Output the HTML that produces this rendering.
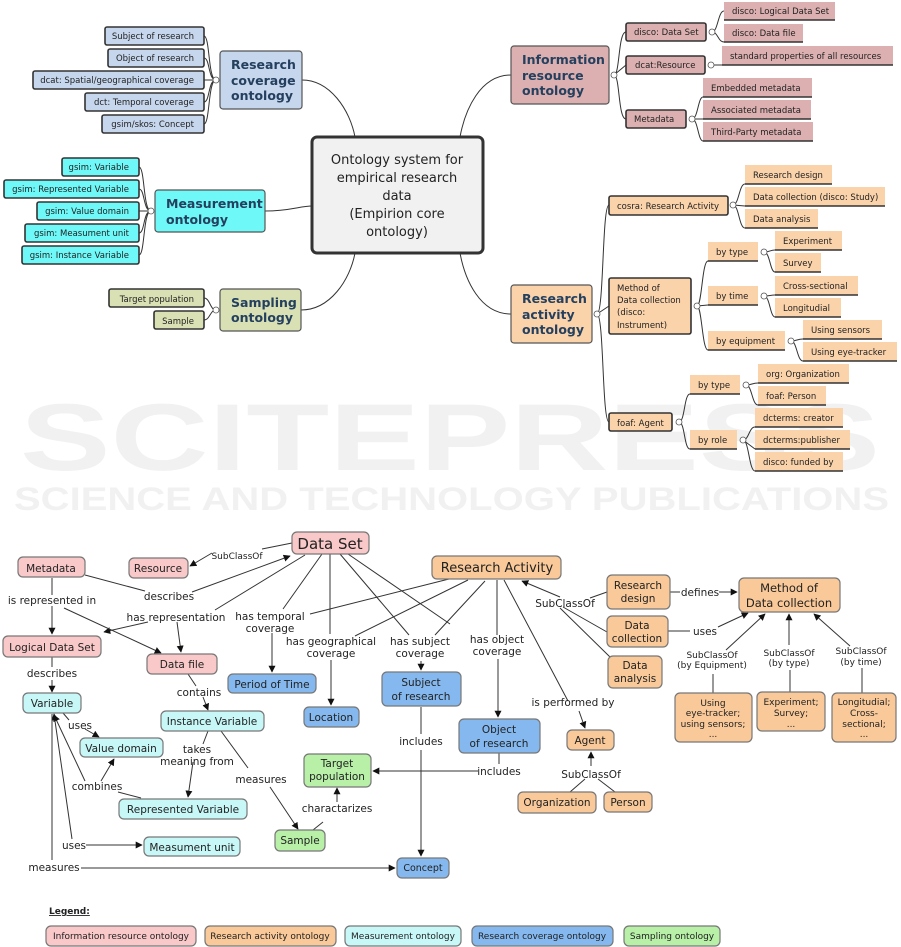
<!DOCTYPE html>
<html><head><meta charset="utf-8"><style>
html,body{margin:0;padding:0;background:#fff}
svg{display:block;font-family:"DejaVu Sans","Liberation Sans",sans-serif}
.l{font-size:8.5px;fill:#222}
.m{font-size:12.5px;font-weight:bold;fill:#24405e}
.b{font-size:10.5px;fill:#222}
.s{font-size:9px;fill:#222}
.e{stroke:#333;stroke-width:1;fill:none}
</style></head><body>
<svg width="901" height="947" viewBox="0 0 901 947" xmlns="http://www.w3.org/2000/svg">
<defs><marker id="a" viewBox="0 0 10 10" refX="9" refY="5" markerWidth="7" markerHeight="7" orient="auto-start-reverse"><path d="M0,0L10,5L0,10z" fill="#111"/></marker></defs>
<!-- watermark -->
<g fill="#f1f1f1" font-family="Liberation Sans,sans-serif" font-weight="bold">
<text x="20" y="470" font-size="95" textLength="860" lengthAdjust="spacingAndGlyphs">SCITEPRESS</text>
<text x="14" y="510" font-size="32" textLength="875" lengthAdjust="spacingAndGlyphs">SCIENCE AND TECHNOLOGY PUBLICATIONS</text>
</g>
<!-- ===== TOP MIND MAP ===== -->
<g class="e" stroke="#555">
<path d="M302,80 C330,80 350,110 355,137"/>
<path d="M265,211 C290,211 300,206 312,206"/>
<path d="M301,310 C330,310 350,280 355,253"/>
<path d="M511,75 C480,75 465,110 460,137"/>
<path d="M511,314 C480,314 465,280 460,253"/>
<path d="M216,80 C208,80 210,36 204,36 M216,80 C208,80 210,58 204,58 M216,80 L204,80 M216,80 C208,80 210,102 204,102 M216,80 C208,80 210,124 204,124"/>
<path d="M151,211 C143,211 145,167 139,167 M151,211 C143,211 145,189 139,189 M151,211 L139,211 M151,211 C143,211 145,233 139,233 M151,211 C143,211 145,255 139,255"/>
<path d="M216,310 C210,310 210,298 204,298 M216,310 C210,310 210,320 204,320"/>
<path d="M614,75 C620,75 618,32 626,32 M614,75 L626,65 M614,75 C620,75 618,119 626,119"/>
<path d="M712,32 C718,32 718,11 724,11 M712,32 C718,32 718,42 724,42"/>
<path d="M708,65 L722,65"/>
<path d="M692,119 C698,119 698,97 703,97 M692,119 L703,119 M692,119 C698,119 698,141 703,141"/>
<path d="M597,314 C604,314 602,205 609,205 M597,314 L609,306 M597,314 C604,314 602,422 609,422"/>
<path d="M733,205 C739,205 739,184 745,184 M733,205 L745,206 M733,205 C739,205 739,228 745,228"/>
<path d="M697,306 C702,306 702,261 708,261 M697,306 L708,305 M697,306 C702,306 702,350 708,350"/>
<path d="M764,252 C770,252 770,250 775,250 M764,252 C770,252 770,272 775,272"/>
<path d="M764,296 C770,296 770,295 775,295 M764,296 C770,296 770,317 775,317"/>
<path d="M791,341 C797,341 797,339 803,339 M791,341 C797,341 797,361 803,361"/>
<path d="M679,422 C685,422 684,394 690,394 M679,422 C685,422 684,449 690,449"/>
<path d="M746,385 C752,385 752,383 758,383 M746,385 C752,385 752,405 758,405"/>
<path d="M743,440 C749,440 749,427 755,427 M743,440 L755,449 M743,440 C749,440 749,471 755,471"/>
</g>
<g fill="#fff" stroke="#555" stroke-width=".8">
<circle cx="216" cy="80" r="3"/><circle cx="151" cy="211" r="3"/><circle cx="216" cy="310" r="3"/>
<circle cx="614" cy="75" r="3"/><circle cx="712" cy="32" r="3"/><circle cx="711" cy="65" r="3"/><circle cx="692" cy="119" r="3"/>
<circle cx="597" cy="314" r="3"/><circle cx="733" cy="205" r="3"/><circle cx="697" cy="306" r="3"/>
<circle cx="764" cy="252" r="3"/><circle cx="764" cy="296" r="3"/><circle cx="791" cy="341" r="3"/>
<circle cx="679" cy="422" r="3"/><circle cx="746" cy="385" r="3"/><circle cx="743" cy="440" r="3"/>
</g>
<rect x="312" y="137" width="171" height="116" rx="5" fill="#f1f1f1" stroke="#333" stroke-width="3"/>
<g font-size="13" fill="#222" text-anchor="middle"><text x="397" y="164">Ontology system for</text><text x="397" y="182">empirical research</text><text x="397" y="200">data</text><text x="397" y="218">(Empirion core</text><text x="397" y="236">ontology)</text></g>
<g fill="#c6d6ec" stroke="#333" stroke-width="1.6">
<rect x="105" y="27" width="99" height="18" rx="2"/><rect x="108" y="49" width="96" height="18" rx="2"/><rect x="33" y="71" width="171" height="18" rx="2"/><rect x="85" y="93" width="119" height="18" rx="2"/><rect x="102" y="115" width="102" height="18" rx="2"/>
<rect x="220" y="51" width="82" height="58" rx="3" stroke="#555" stroke-width="1.2"/>
</g>
<g class="l" text-anchor="end"><text x="194" y="39">Subject of research</text><text x="194" y="61">Object of research</text><text x="194" y="83">dcat: Spatial/geographical coverage</text><text x="194" y="105">dct: Temporal coverage</text><text x="194" y="127">gsim/skos: Concept</text></g>
<g class="m"><text x="231" y="69">Research</text><text x="231" y="85">coverage</text><text x="231" y="100">ontology</text></g>
<g fill="#6ff8f8" stroke="#333" stroke-width="1.6">
<rect x="62" y="158" width="77" height="18" rx="2"/><rect x="4" y="180" width="135" height="18" rx="2"/><rect x="37" y="202" width="102" height="18" rx="2"/><rect x="25" y="224" width="114" height="18" rx="2"/><rect x="22" y="246" width="117" height="18" rx="2"/>
<rect x="155" y="190" width="110" height="42" rx="3" stroke="#555" stroke-width="1.2"/>
</g>
<g class="l" text-anchor="end"><text x="129" y="170">gsim: Variable</text><text x="129" y="192">gsim: Represented Variable</text><text x="129" y="214">gsim: Value domain</text><text x="129" y="236">gsim: Measument unit</text><text x="129" y="258">gsim: Instance Variable</text></g>
<g class="m"><text x="166" y="208">Measurement</text><text x="166" y="224">ontology</text></g>
<g fill="#d8e0b4" stroke="#333" stroke-width="1.6">
<rect x="109" y="289" width="95" height="18" rx="2"/><rect x="154" y="311" width="50" height="18" rx="2"/>
<rect x="220" y="289" width="81" height="42" rx="3" stroke="#555" stroke-width="1.2"/>
</g>
<g class="l" text-anchor="end"><text x="194" y="302">Target population</text><text x="194" y="324">Sample</text></g>
<g class="m"><text x="231" y="307">Sampling</text><text x="231" y="322">ontology</text></g>
<g fill="#dcb0b0" stroke="#333" stroke-width="1.6">
<rect x="511" y="46" width="98" height="58" rx="3" stroke="#555" stroke-width="1.2"/>
<rect x="626" y="23" width="80" height="18" rx="2"/><rect x="626" y="56" width="79" height="18" rx="2"/><rect x="626" y="110" width="60" height="18" rx="2"/>
</g>
<g fill="#dcb0b0">
<rect x="724" y="2" width="111" height="18"/><rect x="724" y="24" width="79" height="18"/><rect x="722" y="46" width="171" height="19"/><rect x="703" y="78" width="109" height="19"/><rect x="703" y="100" width="108" height="19"/><rect x="703" y="122" width="110" height="19"/>
</g>
<g stroke="#333" stroke-width="1.5"><path d="M724,20H835M724,42H803M722,65H893M703,97H812M703,119H811M703,141H813"/></g>
<g class="m"><text x="522" y="64">Information</text><text x="522" y="80">resource</text><text x="522" y="95">ontology</text></g>
<g class="l"><text x="634" y="35">disco: Data Set</text><text x="635" y="68">dcat:Resource</text><text x="634" y="122">Metadata</text>
<text x="732" y="14">disco: Logical Data Set</text><text x="732" y="36">disco: Data file</text><text x="730" y="59">standard properties of all resources</text><text x="711" y="91">Embedded metadata</text><text x="711" y="113">Associated metadata</text><text x="711" y="135">Third-Party metadata</text></g>
<g fill="#fbd3ab" stroke="#333" stroke-width="1.6">
<rect x="511" y="285" width="81" height="58" rx="3" stroke="#555" stroke-width="1.2"/>
<rect x="609" y="196" width="119" height="19" rx="2"/><rect x="609" y="278" width="82" height="56" rx="2"/><rect x="609" y="413" width="63" height="18" rx="2"/>
</g>
<g fill="#fbd3ab">
<rect x="745" y="165" width="87" height="19"/><rect x="745" y="187" width="140" height="19"/><rect x="745" y="209" width="73" height="19"/>
<rect x="708" y="242" width="50" height="19"/><rect x="775" y="231" width="67" height="19"/><rect x="775" y="253" width="46" height="19"/>
<rect x="708" y="286" width="50" height="19"/><rect x="775" y="276" width="83" height="19"/><rect x="775" y="298" width="66" height="19"/>
<rect x="708" y="331" width="77" height="19"/><rect x="803" y="320" width="79" height="19"/><rect x="803" y="342" width="94" height="19"/>
<rect x="690" y="375" width="50" height="19"/><rect x="758" y="364" width="91" height="19"/><rect x="758" y="386" width="68" height="19"/>
<rect x="690" y="430" width="47" height="19"/><rect x="755" y="408" width="88" height="19"/><rect x="755" y="430" width="95" height="19"/><rect x="755" y="452" width="88" height="19"/>
</g>
<g stroke="#333" stroke-width="1.5"><path d="M745,184H832M745,206H885M745,228H818M708,261H758M775,250H842M775,272H821M708,305H758M775,295H858M775,317H841M708,350H785M803,339H882M803,361H897M690,394H740M758,383H849M758,405H826M690,449H737M755,427H843M755,449H850M755,471H843"/></g>
<g class="m"><text x="522" y="303">Research</text><text x="522" y="319">activity</text><text x="522" y="334">ontology</text></g>
<g class="l"><text x="617" y="209">cosra: Research Activity</text><text x="617" y="291">Method of</text><text x="617" y="303">Data collection</text><text x="617" y="315">(disco:</text><text x="617" y="328">Instrument)</text><text x="617" y="426">foaf: Agent</text>
<text x="753" y="178">Research design</text><text x="753" y="200">Data collection (disco: Study)</text><text x="753" y="222">Data analysis</text>
<text x="716" y="255">by type</text><text x="783" y="244">Experiment</text><text x="783" y="266">Survey</text>
<text x="716" y="299">by time</text><text x="783" y="289">Cross-sectional</text><text x="783" y="311">Longitudial</text>
<text x="716" y="344">by equipment</text><text x="811" y="333">Using  sensors</text><text x="811" y="355">Using  eye-tracker</text>
<text x="698" y="388">by type</text><text x="766" y="377">org: Organization</text><text x="766" y="399">foaf: Person</text>
<text x="698" y="443">by role</text><text x="763" y="421">dcterms: creator</text><text x="763" y="443">dcterms:publisher</text><text x="763" y="465">disco: funded by</text></g>

<!-- ===== BOTTOM CONCEPT MAP ===== -->
<g class="e">
<path d="M292,543 L262,549 M212,553 L190,566" marker-end="url(#a)"/>
<path d="M85,575 L145,591 M192,592 L290,556" marker-end="url(#a)"/>
<path d="M305,555 L215,610 M148,622 L104,632" marker-end="url(#a)"/>
<path d="M177,622 L181,652" marker-end="url(#a)"/>
<path d="M52,578 L52,595 M52,606 L52,634" marker-end="url(#a)"/>
<path d="M64,608 L161,653" marker-end="url(#a)"/>
<path d="M52,657 L52,667 M52,680 L52,692" marker-end="url(#a)"/>
<path d="M188,674 L196,686 M203,697 L208,710" marker-end="url(#a)"/>
<path d="M63,713 L69,720 M85,729 L99,737" marker-end="url(#a)"/>
<path d="M141,798 L118,792 M101,781 L114,759" marker-end="url(#a)"/>
<path d="M85,781 L54,715" marker-end="url(#a)"/>
<path d="M208,731 L203,744 M193,762 L188,797" marker-end="url(#a)"/>
<path d="M221,731 L248,768 M270,787 L298,829" marker-end="url(#a)"/>
<path d="M72,839 L54,714" marker-end="url(#a)"/>
<path d="M86,845 L142,845" marker-end="url(#a)"/>
<path d="M52,714 L52,860 M81,868 L395,868" marker-end="url(#a)"/>
<path d="M313,830 L323,822 M337,802 L337,788" marker-end="url(#a)"/>
<path d="M322,554 L283,609 M272,633 L272,672" marker-end="url(#a)"/>
<path d="M330,554 L330,634 M331,660 L331,705" marker-end="url(#a)"/>
<path d="M340,554 L409,635 M421,661 L421,670" marker-end="url(#a)"/>
<path d="M348,554 L450,624 M498,659 L498,717" marker-end="url(#a)"/>
<path d="M449,579 L310,614 M468,580 L355,636 M485,581 L435,635 M497,580 L497,635"/>
<path d="M504,580 L568,701 M579,711 L585,728" marker-end="url(#a)"/>
<path d="M421,707 L421,734 M421,750 L421,856" marker-end="url(#a)"/>
<path d="M499,753 L499,764 M478,771 L373,771" marker-end="url(#a)"/>
<path d="M585,779 L570,792 M598,779 L615,792"/>
<path d="M591,766 L591,752" marker-end="url(#a)"/>
<path d="M560,597 L522,581" marker-end="url(#a)"/>
<path d="M590,598 L607,592 M563,607 L607,632 M560,608 L610,657"/>
<path d="M670,592 L680,592 M719,592 L737,592" marker-end="url(#a)"/>
<path d="M668,631 L690,631 M718,627 L748,613" marker-end="url(#a)"/>
<path d="M726,650 L765,614" marker-end="url(#a)"/>
<path d="M713,674 L713,693 M790,670 L790,692 M862,668 L862,693"/>
<path d="M789,645 L789,614" marker-end="url(#a)"/>
<path d="M850,646 L814,614" marker-end="url(#a)"/>
</g>
<g stroke="#777" stroke-width="1.2">
<g fill="#f9c8c8">
<rect x="292" y="532" width="77" height="22" rx="5"/><rect x="129" y="558" width="59" height="20" rx="5"/><rect x="18" y="557" width="67" height="20" rx="5"/><rect x="3" y="636" width="98" height="21" rx="5"/><rect x="147" y="654" width="70" height="20" rx="5"/>
</g>
<g fill="#c8f7f7">
<rect x="23" y="693" width="58" height="20" rx="5"/><rect x="161" y="711" width="103" height="20" rx="5"/><rect x="80" y="738" width="83" height="19" rx="5"/><rect x="119" y="799" width="128" height="20" rx="5"/><rect x="144" y="837" width="96" height="19" rx="5"/>
</g>
<g fill="#84b8ee">
<rect x="228" y="674" width="88" height="19" rx="5"/><rect x="304" y="707" width="55" height="20" rx="5"/><rect x="382" y="672" width="79" height="34" rx="5"/><rect x="459" y="719" width="81" height="34" rx="5"/><rect x="397" y="858" width="52" height="20" rx="5"/>
</g>
<g fill="#b8f0a8"><rect x="304" y="754" width="67" height="33" rx="5"/><rect x="275" y="830" width="50" height="21" rx="5"/></g>
<g fill="#f9c999">
<rect x="432" y="556" width="129" height="23" rx="5"/><rect x="607" y="575" width="63" height="34" rx="5"/><rect x="607" y="616" width="61" height="31" rx="5"/><rect x="608" y="656" width="54" height="32" rx="5"/><rect x="739" y="578" width="101" height="34" rx="5"/>
<rect x="675" y="693" width="77" height="49" rx="5"/><rect x="757" y="692" width="68" height="39" rx="5"/><rect x="832" y="693" width="64" height="49" rx="5"/>
<rect x="567" y="730" width="47" height="20" rx="5"/><rect x="518" y="792" width="78" height="21" rx="5"/><rect x="604" y="792" width="48" height="20" rx="5"/>
</g>
</g>
<g fill="#222" text-anchor="middle">
<text x="330" y="549" font-size="15">Data Set</text>
<text x="497" y="572" font-size="13">Research Activity</text>
<text x="789" y="592" font-size="11.5">Method of</text><text x="789" y="607" font-size="11.5">Data collection</text>
<g class="b">
<text x="158" y="572">Resource</text><text x="51" y="572">Metadata</text><text x="52" y="651">Logical Data Set</text><text x="182" y="668">Data file</text>
<text x="52" y="707">Variable</text><text x="212" y="725">Instance Variable</text><text x="121" y="752">Value domain</text><text x="183" y="813">Represented Variable</text><text x="192" y="851">Measument unit</text>
<text x="272" y="688">Period of Time</text><text x="331" y="721">Location</text><text x="421" y="686">Subject</text><text x="421" y="700">of research</text><text x="499" y="733">Object</text><text x="499" y="747">of research</text>
<text x="337" y="767">Target</text><text x="337" y="780">population</text><text x="300" y="844">Sample</text>
<text x="590" y="744">Agent</text><text x="557" y="806">Organization</text><text x="628" y="806">Person</text>
<text x="638" y="589">Research</text><text x="638" y="602">design</text><text x="637" y="629">Data</text><text x="637" y="642">collection</text><text x="635" y="669">Data</text><text x="635" y="682">analysis</text>
</g>
<g font-size="9.5"><text x="423" y="871">Concept</text></g>
<g class="s">
<text x="713" y="706">Using</text><text x="713" y="716">eye-tracker;</text><text x="713" y="727">using sensors;</text><text x="713" y="737">...</text>
<text x="791" y="705">Experiment;</text><text x="791" y="716">Survey;</text><text x="791" y="727">...</text>
<text x="864" y="705">Longitudial;</text><text x="864" y="716">Cross-</text><text x="864" y="727">sectional;</text><text x="864" y="737">...</text>
</g>
<g class="b">
<text x="169" y="600">describes</text><text x="52" y="604">is represented in</text><text x="176" y="621">has representation</text>
<text x="52" y="677">describes</text><text x="199" y="696">contains</text><text x="80" y="729">uses</text><text x="97" y="790">combines</text>
<text x="197" y="753">takes</text><text x="197" y="765">meaning from</text><text x="261" y="783">measures</text>
<text x="74" y="849">uses</text><text x="54" y="871">measures</text><text x="337" y="812">charactarizes</text>
<text x="270" y="620">has temporal</text><text x="270" y="632">coverage</text><text x="331" y="645">has geographical</text><text x="331" y="657">coverage</text>
<text x="420" y="645">has subject</text><text x="420" y="657">coverage</text><text x="497" y="643">has object</text><text x="497" y="655">coverage</text>
<text x="421" y="745">includes</text><text x="499" y="775">includes</text><text x="573" y="706">is performed by</text><text x="591" y="778">SubClassOf</text>
<text x="565" y="607">SubClassOf</text><text x="700" y="596">defines</text><text x="705" y="635">uses</text>
</g>
<g class="s"><text x="237" y="559">SubClassOf</text>
<text x="712" y="658">SubClassOf</text><text x="712" y="668">(by Equipment)</text><text x="789" y="656">SubClassOf</text><text x="789" y="666">(by type)</text><text x="861" y="654">SubClassOf</text><text x="861" y="665">(by time)</text></g>
</g>
<text x="49" y="914" font-size="9" font-weight="bold" fill="#222" text-decoration="underline">Legend:</text>
<g stroke="#777" stroke-width="1.2">
<rect x="46" y="926" width="150" height="20" rx="5" fill="#f9c8c8"/><rect x="205" y="926" width="131" height="20" rx="5" fill="#f9c999"/><rect x="345" y="926" width="116" height="20" rx="5" fill="#c8f7f7"/><rect x="472" y="926" width="141" height="20" rx="5" fill="#84b8ee"/><rect x="624" y="926" width="96" height="20" rx="5" fill="#b8f0a8"/>
</g>
<g class="s" text-anchor="middle"><text x="121" y="939">Information resource ontology</text><text x="270" y="939">Research activity ontology</text><text x="403" y="939">Measurement ontology</text><text x="542" y="939">Research coverage ontology</text><text x="672" y="939">Sampling ontology</text></g>
</svg>
</body></html>
